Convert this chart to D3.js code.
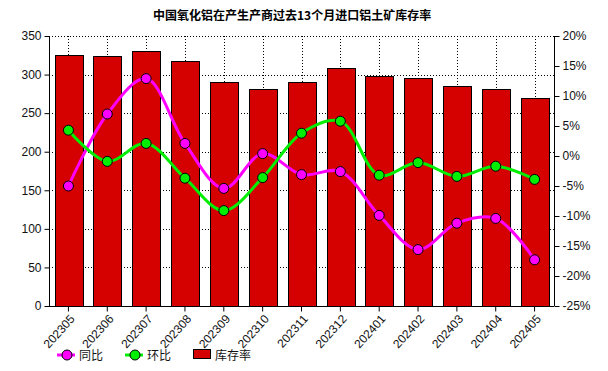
<!DOCTYPE html>
<html>
<head>
<meta charset="utf-8">
<script src="https://cdn.jsdelivr.net/npm/d3@7"></script>
<style>
  body { margin: 0; background: #fff; }
  text { font-family: "Liberation Sans", Arial, sans-serif; }
</style>
</head>
<body>
<div id="chart"></div>
<script>
// data
var months = ["202305", "202306", "202307", "202308", "202309", "202310", "202311",
    "202312", "202401", "202402", "202403", "202404", "202405"];
var stockRate = [326, 324, 331, 318, 290, 281, 291, 308, 298, 295, 285, 281, 269];
var yoy = [-5.0, 7.0, 12.9, 2.1, -5.4, 0.4, -3.1, -2.6, -9.9, -15.6, -11.2, -10.4, -17.3];
var mom = [4.3, -0.9, 2.1, -3.7, -9.1, -3.6, 3.8, 5.8, -3.2, -1.1, -3.4, -1.7, -3.9];
var leftTicks = [0, 50, 100, 150, 200, 250, 300, 350];
var rightTicks = [-25, -20, -15, -10, -5, 0, 5, 10, 15, 20];

var w = 608, h = 371;
var pLeft = 49, pRight = 554, pTop = 36, pBottom = 306;

var svg = d3.select("#chart").append("svg")
    .attr("width", w)
    .attr("height", h);

// scales
var xScale = d3.scaleBand()
    .domain(months)
    .range([pLeft, pRight])
    .paddingInner(0.29)
    .paddingOuter(0.145);

var yScale = d3.scaleLinear().domain([0, 350]).range([pBottom, pTop]);
var pScale = d3.scaleLinear().domain([-25, 20]).range([pBottom, pTop]);

var cx = d => xScale(d) + xScale.bandwidth() / 2;

// dotted grid
svg.append("g").selectAll("line")
    .data(leftTicks.filter(d => d > 0))
    .enter().append("line")
    .attr("x1", pLeft).attr("x2", pRight)
    .attr("y1", d => Math.round(yScale(d)) + 0.5)
    .attr("y2", d => Math.round(yScale(d)) + 0.5)
    .attr("stroke", "#000")
    .attr("stroke-dasharray", "1,2");

svg.append("g").selectAll("line")
    .data(months)
    .enter().append("line")
    .attr("x1", d => Math.round(cx(d)) + 0.5)
    .attr("x2", d => Math.round(cx(d)) + 0.5)
    .attr("y1", pTop).attr("y2", pBottom)
    .attr("stroke", "#000")
    .attr("stroke-dasharray", "1,2");

// bars
svg.append("g").selectAll("rect")
    .data(stockRate)
    .enter().append("rect")
    .attr("x", (d, i) => Math.round(xScale(months[i])) + 0.5)
    .attr("y", d => Math.round(yScale(d)) + 0.5)
    .attr("width", Math.round(xScale.bandwidth()))
    .attr("height", d => pBottom - Math.round(yScale(d)))
    .attr("fill", "#d50000")
    .attr("stroke", "#000")
    .attr("stroke-width", 1);

// lines
function drawLine(vals, color) {
    var line = d3.line()
        .x((d, i) => cx(months[i]))
        .y(d => pScale(d))
        .curve(d3.curveCatmullRom.alpha(0.5));
    svg.append("path")
        .datum(vals)
        .attr("d", line)
        .attr("fill", "none")
        .attr("stroke", color)
        .attr("stroke-width", 3);
    svg.append("g").selectAll("circle")
        .data(vals)
        .enter().append("circle")
        .attr("cx", (d, i) => cx(months[i]))
        .attr("cy", d => pScale(d))
        .attr("r", 5)
        .attr("fill", color)
        .attr("stroke", "#000")
        .attr("stroke-width", 1);
}
drawLine(yoy, "#ff00ff");
drawLine(mom, "#00ee00");

// axes
var leftAxis = svg.append("g")
    .attr("transform", `translate(${pLeft + 0.5},0)`)
    .call(d3.axisLeft(yScale).tickValues(leftTicks).tickSize(5).tickPadding(3));

var rightAxis = svg.append("g")
    .attr("transform", `translate(${pRight + 0.5},0)`)
    .call(d3.axisRight(pScale).tickValues(rightTicks).tickSize(5).tickPadding(3)
        .tickFormat(d => d + "%"));

var xAxis = svg.append("g")
    .attr("transform", `translate(0,${pBottom + 0.5})`)
    .call(d3.axisBottom(xScale).tickSize(5).tickSizeOuter(0));

[leftAxis, rightAxis, xAxis].forEach(g => {
    g.selectAll("text").style("font-size", "12px").attr("fill", "#111");
    g.selectAll("line, path").attr("stroke", "#000");
});
leftAxis.select(".domain").attr("d", `M0,${pTop}V${pBottom}`);
rightAxis.select(".domain").attr("d", `M0,${pTop}V${pBottom}`);
xAxis.select(".domain").attr("d", `M${pLeft},0H${pRight}`);

xAxis.selectAll("text")
    .attr("text-anchor", "end")
    .attr("x", 0)
    .attr("y", 0)
    .attr("dy", "0.35em")
    .attr("transform", "translate(4,10) rotate(-48)");

// title
svg.append("text")
    .attr("x", 153)
    .attr("y", 20)
    .style("font-family", "'Noto Sans CJK SC', sans-serif")
    .style("font-size", "12px")
    .style("font-weight", "bold")
    .text("中国氧化铝在产生产商过去13个月进口铝土矿库存率");

// legend
var legend = svg.append("g").attr("transform", "translate(0,355)");
var items = [
    { name: "同比", color: "#ff00ff", x: 57 },
    { name: "环比", color: "#00ee00", x: 125 }
];
items.forEach(it => {
    legend.append("line")
        .attr("x1", it.x).attr("x2", it.x + 18)
        .attr("y1", 0).attr("y2", 0)
        .attr("stroke", it.color).attr("stroke-width", 3);
    legend.append("circle")
        .attr("cx", it.x + 10).attr("cy", 0).attr("r", 5)
        .attr("fill", it.color).attr("stroke", "#000");
    legend.append("text")
        .attr("x", it.x + 22).attr("y", 4.5)
        .style("font-family", "'Noto Sans CJK SC', sans-serif")
        .style("font-size", "12px")
        .attr("fill", "#111")
        .text(it.name);
});
legend.append("rect")
    .attr("x", 193.5).attr("y", -5.5)
    .attr("width", 17).attr("height", 9)
    .attr("fill", "#d50000").attr("stroke", "#000");
legend.append("text")
    .attr("x", 215).attr("y", 4.5)
    .style("font-family", "'Noto Sans CJK SC', sans-serif")
    .style("font-size", "12px")
    .attr("fill", "#111")
    .text("库存率");
</script>
</body>
</html>
